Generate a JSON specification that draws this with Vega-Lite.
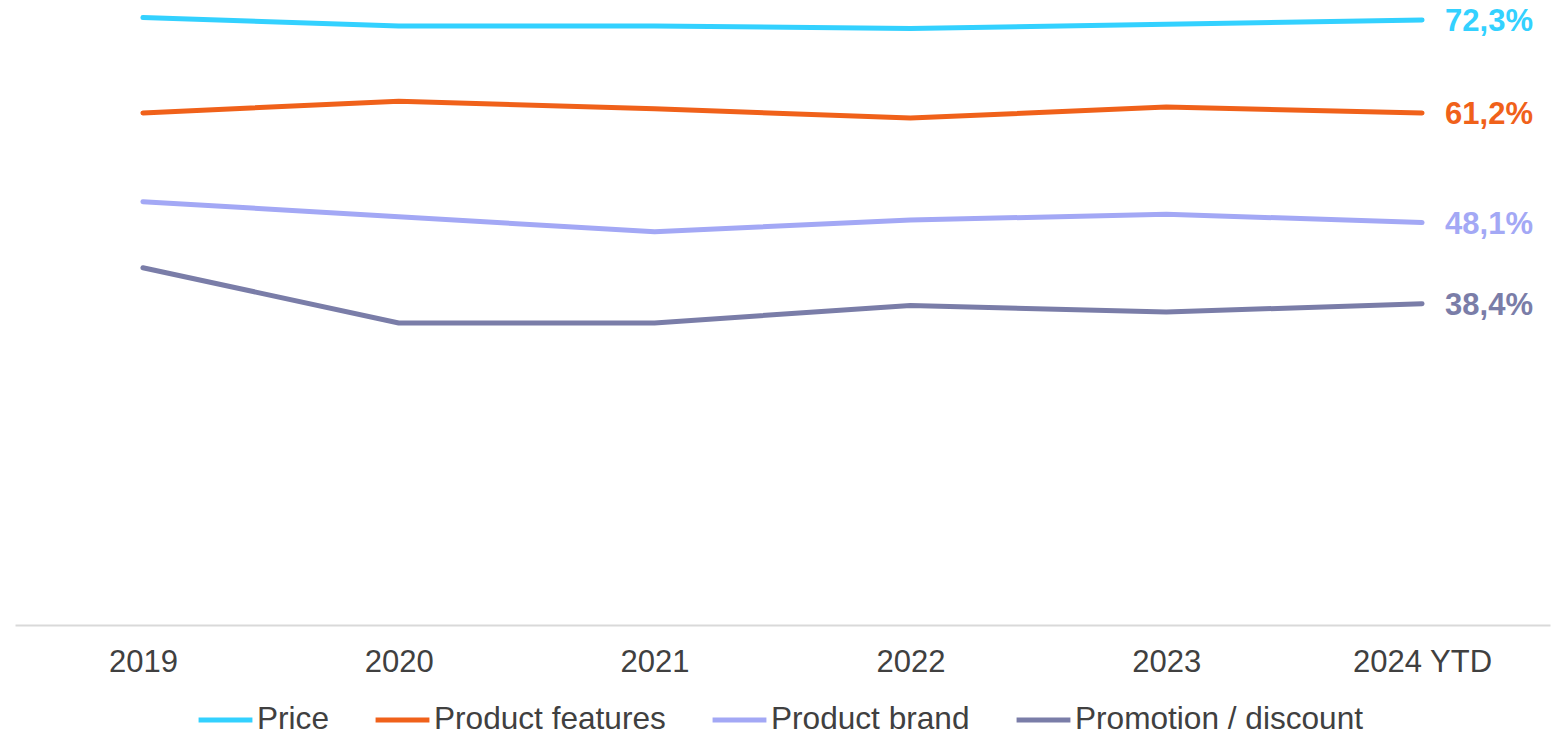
{
  "$schema": "https://vega.github.io/schema/vega-lite/v6.json",
  "width": 1535,
  "height": 625,
  "autosize": "none",
  "padding": {"left": 15, "top": 0, "right": 17, "bottom": 111},
  "background": "white",
  "config": {
    "view": {"stroke": null},
    "font": "Liberation Sans",
    "locale": {
      "number": {
        "decimal": ",",
        "thousands": ".",
        "grouping": [3],
        "currency": ["", " €"]
      }
    }
  },
  "data": {
    "values": [
      {"year": "2019", "factor": "Price", "share": 72.6},
      {"year": "2020", "factor": "Price", "share": 71.6},
      {"year": "2021", "factor": "Price", "share": 71.6},
      {"year": "2022", "factor": "Price", "share": 71.3},
      {"year": "2023", "factor": "Price", "share": 71.8},
      {"year": "2024 YTD", "factor": "Price", "share": 72.3},
      {"year": "2019", "factor": "Product features", "share": 61.2},
      {"year": "2020", "factor": "Product features", "share": 62.6},
      {"year": "2021", "factor": "Product features", "share": 61.7},
      {"year": "2022", "factor": "Product features", "share": 60.6},
      {"year": "2023", "factor": "Product features", "share": 61.9},
      {"year": "2024 YTD", "factor": "Product features", "share": 61.2},
      {"year": "2019", "factor": "Product brand", "share": 50.6},
      {"year": "2020", "factor": "Product brand", "share": 48.8},
      {"year": "2021", "factor": "Product brand", "share": 47.0},
      {"year": "2022", "factor": "Product brand", "share": 48.4},
      {"year": "2023", "factor": "Product brand", "share": 49.1},
      {"year": "2024 YTD", "factor": "Product brand", "share": 48.1},
      {"year": "2019", "factor": "Promotion / discount", "share": 42.7},
      {"year": "2020", "factor": "Promotion / discount", "share": 36.1},
      {"year": "2021", "factor": "Promotion / discount", "share": 36.1},
      {"year": "2022", "factor": "Promotion / discount", "share": 38.2},
      {"year": "2023", "factor": "Promotion / discount", "share": 37.4},
      {"year": "2024 YTD", "factor": "Promotion / discount", "share": 38.4}
    ]
  },
  "encoding": {
    "x": {
      "field": "year",
      "type": "ordinal",
      "sort": null,
      "scale": {"type": "point", "padding": 0.5},
      "axis": {
        "title": null,
        "labelAngle": 0,
        "labelFontSize": 31,
        "labelColor": "#404040",
        "labelPadding": 22,
        "ticks": false,
        "domainColor": "#D9D9D9",
        "domainWidth": 2,
        "grid": false
      }
    },
    "y": {
      "field": "share",
      "type": "quantitative",
      "scale": {"domain": [0, 74.7], "nice": false, "zero": true},
      "axis": null
    },
    "color": {
      "field": "factor",
      "type": "nominal",
      "scale": {
        "domain": ["Price", "Product features", "Product brand", "Promotion / discount"],
        "range": ["#33D1FF", "#F0611A", "#A3A8F5", "#7A7DA8"]
      }
    }
  },
  "layer": [
    {
      "mark": {"type": "line", "strokeWidth": 5, "strokeCap": "round", "strokeJoin": "round"},
      "encoding": {
        "color": {
          "field": "factor",
          "type": "nominal",
          "scale": {
            "domain": ["Price", "Product features", "Product brand", "Promotion / discount"],
            "range": ["#33D1FF", "#F0611A", "#A3A8F5", "#7A7DA8"]
          },
          "legend": {
            "title": null,
            "orient": "none",
            "direction": "horizontal",
            "legendX": 181,
            "legendY": 690,
            "symbolType": "stroke",
            "symbolSize": 2900,
            "symbolStrokeWidth": 5,
            "labelFontSize": 31.6,
            "labelColor": "#404040",
            "labelOffset": 2,
            "columnPadding": 36,
            "labelLimit": 400
          }
        }
      }
    },
    {
      "transform": [
        {"filter": "datum.year === '2024 YTD'"},
        {"calculate": "format(datum.share, '.1f') + '%'", "as": "label"}
      ],
      "mark": {
        "type": "text",
        "align": "left",
        "baseline": "middle",
        "dx": 23,
        "dy": 2,
        "fontSize": 31,
        "fontWeight": "bold"
      },
      "encoding": {
        "text": {"field": "label", "type": "nominal"}
      }
    }
  ]
}
